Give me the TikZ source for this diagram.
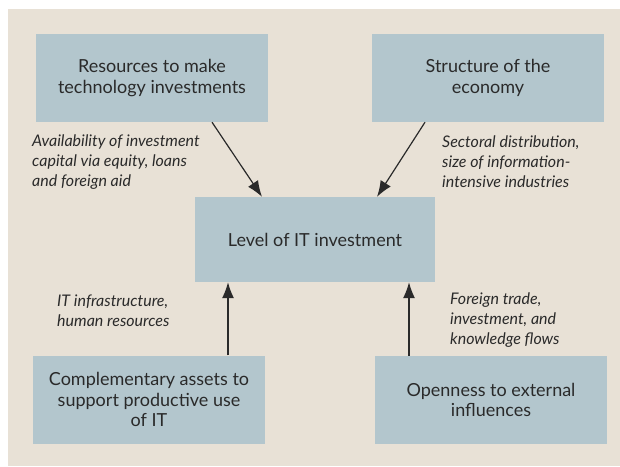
\documentclass[tikz,border=0pt]{standalone}
\usepackage{fontspec}
\setmainfont{Lato}
\usetikzlibrary{arrows.meta}
\definecolor{paper}{HTML}{E8E1D6}
\definecolor{boxfill}{HTML}{B3C6CD}
\definecolor{ink}{HTML}{2A2A2A}

\begin{document}
\begin{tikzpicture}[x=1pt, y=-1pt,
  box/.style={fill=boxfill, text=ink, inner sep=0pt, align=center,
    minimum width=232pt, minimum height=88pt,
    font=\fontsize{18}{20.5}\selectfont},
  note/.style={text=ink, inner sep=0pt, anchor=west, align=left,
    font=\itshape\fontsize{16}{20}\selectfont},
  arr/.style={-{Latex[length=16pt,width=12pt]}, line width=1.2pt, ink}]
\useasboundingbox (0,0) rectangle (620,466);
\fill[paper] (8,9) rectangle (620,466);

\node[box] (res) at (152,78) {Resources to make\\technology investments};
\node[box] (struct) at (488,78) {Structure of the\\economy};
\node[box, minimum width=240pt, minimum height=85pt] (level) at (315,239.5) {Level of IT investment};
\node[box] (compl) at (149,399.5) {Complementary assets to\\support productive use\\of IT};
\node[box] (open) at (491,400) {Openness to external\\influences};

\node[note] (resnote) at (32,162) {Availability of investment\\capital via equity, loans\\and foreign aid};
\node[note] (structnote) at (442,162) {Sectoral distribution,\\size of information-\\intensive industries};
\node[note] (complnote) at (57,310.5) {IT infrastructure,\\human resources};
\node[note] (opennote) at (450,320) {Foreign trade,\\investment, and\\knowledge flows};

\draw[arr] ([xshift=60pt]res.south) -- ([xshift=-53pt]level.north);
\draw[arr] ([xshift=-63pt]struct.south) -- ([xshift=62pt]level.north);
\draw[arr] ([xshift=79pt]compl.north) -- ([xshift=-87pt]level.south);
\draw[arr] ([xshift=-82pt]open.north) -- ([xshift=94pt]level.south);

\end{tikzpicture}
\end{document}
